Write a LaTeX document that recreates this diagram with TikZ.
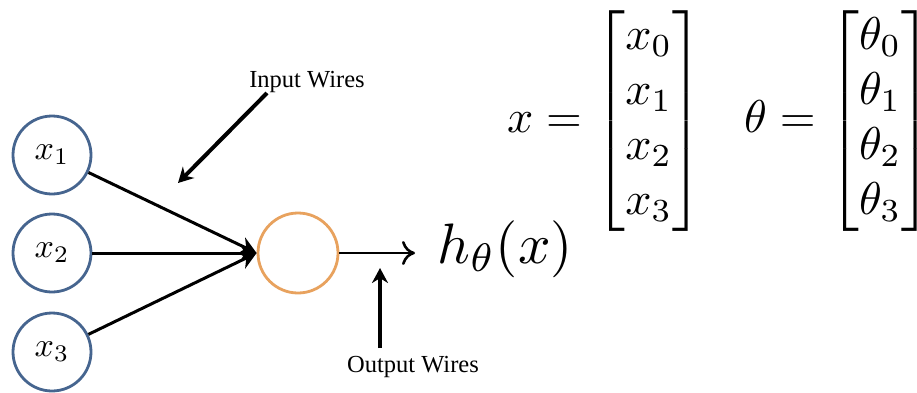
\documentclass[tikz,border=0pt]{standalone}
\usepackage{amsmath}
\usepackage{graphicx}
\usepackage{fontspec}
\newfontfamily\timesf{Liberation Serif}
\usetikzlibrary{arrows.meta}
\definecolor{inblue}{HTML}{46658F}
\definecolor{unitorange}{HTML}{E8A25E}
\begin{document}
\begin{tikzpicture}[x=1pt,y=-1pt,
  inp/.style={circle, draw=inblue, line width=2.8pt, minimum size=78pt, inner sep=0pt},
  unit/.style={circle, draw=unitorange, line width=2.8pt, minimum size=80pt, inner sep=0pt},
  wire/.style={line width=3pt},
  lbl/.style={font=\timesf\fontsize{24.5}{28}\selectfont, inner sep=0pt, anchor=base},
  pointer/.style={line width=4pt, -{Stealth[length=15pt,width=16pt]}},
  mathbig/.style={inner sep=0pt}]
\fill[white] (0,0) rectangle (917,392);
\useasboundingbox (0,0) rectangle (917,392);
\node[inp] (x1) at (52,155) {\scalebox{3.4}{$x_1$}};
\node[inp] (x2) at (52,253) {\scalebox{3.4}{$x_2$}};
\node[inp] (x3) at (52,352) {\scalebox{3.4}{$x_3$}};
\node[unit] (u) at (298,253) {};
\draw[wire, -{Stealth[length=17pt,width=18pt]}] (x1) -- (u.west);
\draw[wire, -{Stealth[length=17pt,width=18pt]}] (x2) -- (u.west);
\draw[wire, -{Stealth[length=17pt,width=18pt]}] (x3) -- (u.west);
\node[mathbig, anchor=base] (h) at (505,263) {\scalebox{5.7}{$h_\theta(x)$}};
\coordinate (hin) at (415,253);
\draw[wire, line width=2.6pt, -{To[length=13pt,width=24pt,line width=2.6pt]}] (u) -- (hin);
\node[lbl] (iw) at (307,87) {Input Wires};
\coordinate (iwa) at (267,93);
\coordinate (iwb) at (178,183);
\draw[pointer] (iwa) -- (iwb);
\node[lbl] (ow) at (413,372) {Output Wires};
\coordinate (owa) at (380,348);
\coordinate (owb) at (380,268);
\draw[pointer] (owa) -- (owb);
\node[mathbig] (xv) at (605,121)
  {\scalebox{4.6}{$x = \begin{bmatrix} x_0\\ x_1\\ x_2\\ x_3\end{bmatrix}$}};
\node[mathbig] (tv) at (838,121)
  {\scalebox{4.6}{$\theta = \begin{bmatrix} \theta_0\\ \theta_1\\ \theta_2\\ \theta_3\end{bmatrix}$}};
\end{tikzpicture}
\end{document}
